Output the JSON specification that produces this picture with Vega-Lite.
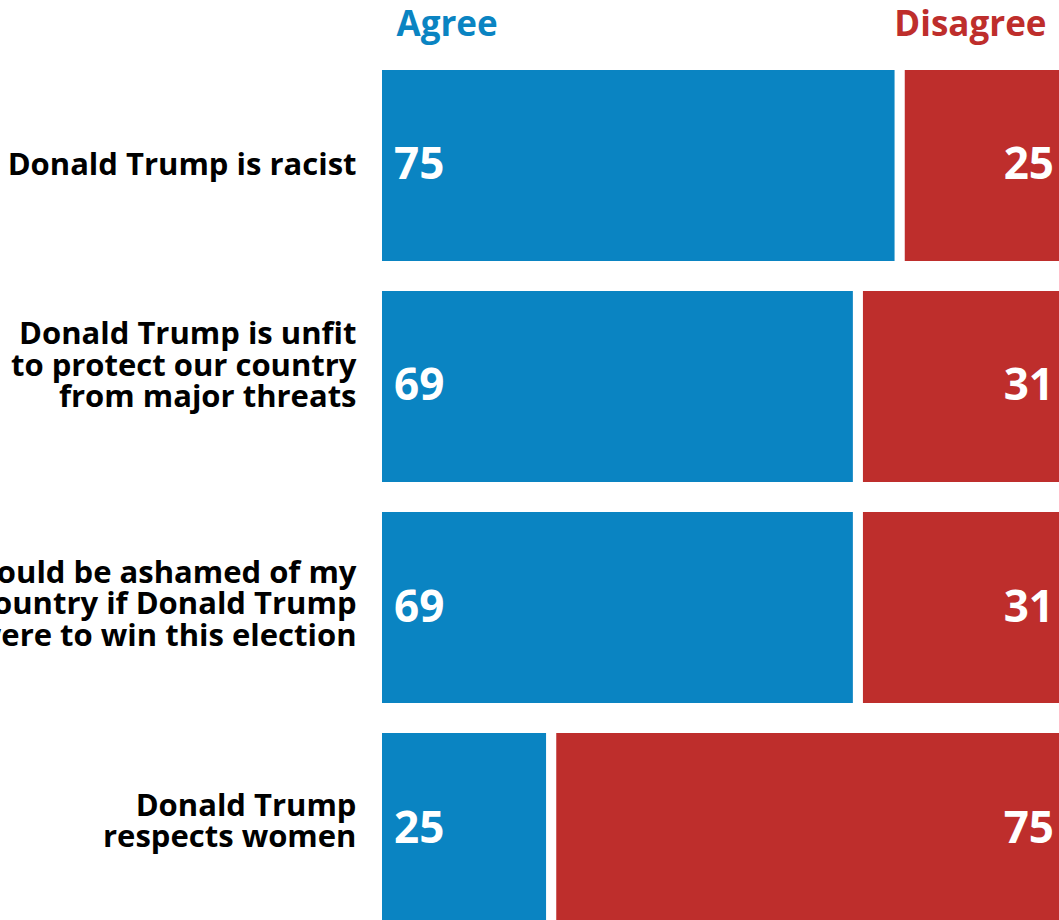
{
  "$schema": "https://vega.github.io/schema/vega-lite/v6.json",
  "width": 682,
  "height": 855,
  "autosize": "none",
  "padding": {"left": 377, "top": 65, "right": 0, "bottom": 0},
  "background": "white",
  "config": {"view": {"stroke": null}, "font": "Open Sans"},
  "data": {
    "values": [
      {"statement": "Donald Trump is racist", "response": "Agree", "value": 75},
      {"statement": "Donald Trump is racist", "response": "Disagree", "value": 25},
      {"statement": "Donald Trump is unfit\nto protect our country\nfrom major threats", "response": "Agree", "value": 69},
      {"statement": "Donald Trump is unfit\nto protect our country\nfrom major threats", "response": "Disagree", "value": 31},
      {"statement": "I would be ashamed of my\ncountry if Donald Trump\nwere to win this election", "response": "Agree", "value": 69},
      {"statement": "I would be ashamed of my\ncountry if Donald Trump\nwere to win this election", "response": "Disagree", "value": 31},
      {"statement": "Donald Trump\nrespects women", "response": "Agree", "value": 25},
      {"statement": "Donald Trump\nrespects women", "response": "Disagree", "value": 75}
    ]
  },
  "transform": [
    {"stack": "value", "groupby": ["statement"], "sort": [{"field": "response", "order": "ascending"}], "as": ["x0", "x1"]}
  ],
  "encoding": {
    "y": {
      "field": "statement",
      "type": "nominal",
      "sort": null,
      "scale": {"range": [0, 864], "paddingInner": 0.0905, "paddingOuter": 0},
      "axis": {
        "title": null,
        "domain": false,
        "ticks": false,
        "labelPadding": 21,
        "labelFont": "Open Sans",
        "labelFontSize": 31,
        "labelFontWeight": "bold",
        "labelColor": "black",
        "labelLimit": 2000,
        "labelLineHeight": 31.5,
        "labelOffset": {
          "condition": [
            {"test": "indexof(datum.value, 'unfit') >= 0", "value": -51},
            {"test": "indexof(datum.value, 'ashamed') >= 0", "value": -34},
            {"test": "indexof(datum.value, 'respects') >= 0", "value": -22}
          ],
          "value": 1
        },
        "labelExpr": "split(datum.label, '\\n')"
      }
    }
  },
  "layer": [
    {
      "mark": {"type": "bar", "stroke": "white", "strokeWidth": 10},
      "encoding": {
        "x": {
          "field": "x0",
          "type": "quantitative",
          "scale": {"domain": [0, 100], "range": [0, 697], "nice": false, "zero": true},
          "axis": {
            "orient": "top",
            "title": null,
            "values": [0, 100],
            "domain": false,
            "ticks": false,
            "grid": false,
            "labelExpr": "datum.value == 0 ? 'Agree' : 'Disagree'",
            "labelFont": "Open Sans",
            "labelFontSize": 35,
            "labelFontWeight": "bold",
            "labelBaseline": "alphabetic",
            "labelPadding": 30,
            "labelAlign": {"condition": {"test": "datum.value == 0", "value": "left"}, "value": "right"},
            "labelOffset": {"condition": {"test": "datum.value == 0", "value": 19}, "value": -28},
            "labelColor": {"condition": {"test": "datum.value == 0", "value": "#0A84C2"}, "value": "#BE2E2C"},
            "labelFlush": false,
            "labelOverlap": false
          }
        },
        "x2": {"field": "x1"},
        "color": {
          "field": "response",
          "type": "nominal",
          "scale": {"domain": ["Agree", "Disagree"], "range": ["#0A84C2", "#BE2E2C"]},
          "legend": null
        }
      }
    },
    {
      "transform": [{"filter": "datum.response == 'Agree'"}],
      "mark": {"type": "text", "align": "left", "baseline": "middle", "dx": 17, "dy": 1, "font": "Open Sans", "fontSize": 44, "fontWeight": "bold", "color": "white"},
      "encoding": {
        "x": {"field": "x0", "type": "quantitative"},
        "text": {"field": "value", "type": "quantitative"}
      }
    },
    {
      "transform": [{"filter": "datum.response == 'Disagree'"}],
      "mark": {"type": "text", "align": "right", "baseline": "middle", "dx": -20, "dy": 1, "font": "Open Sans", "fontSize": 44, "fontWeight": "bold", "color": "white"},
      "encoding": {
        "x": {"field": "x1", "type": "quantitative"},
        "text": {"field": "value", "type": "quantitative"}
      }
    }
  ]
}
